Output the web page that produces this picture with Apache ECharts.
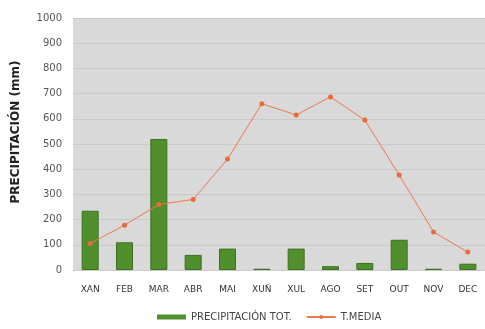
<!DOCTYPE html>
<html><head><meta charset="utf-8">
<script src="https://cdn.jsdelivr.net/npm/echarts@6/dist/echarts.min.js"></script>
<style>html,body{margin:0;padding:0;background:#fff}#c{width:485px;height:329px}</style>
</head><body><div id="c"></div>
<script>
const categories = ['XAN','FEB','MAR','ABR','MAI','XUÑ','XUL','AGO','SET','OUT','NOV','DEC'];
const precipitacion = [235, 110, 520, 60, 85, 5, 85, 15, 28, 120, 5, 25];
const tmedia = [105, 178, 260, 280, 440, 660, 615, 687, 595, 377, 151, 71];
const yTicks = [0, 100, 200, 300, 400, 500, 600, 700, 800, 900, 1000];

const F = 'DejaVu Sans';
const chart = echarts.init(document.getElementById('c'));
chart.setOption({
  animation: false,
  grid: { left: 73, right: 0, top: 18, bottom: 59, backgroundColor: '#d9d9d9', show: true, borderWidth: 0 },
  legend: {
    bottom: 2, left: 152, itemGap: 14,
    textStyle: { fontFamily: F, fontSize: 10, color: '#444' },
    data: [
      { name: 'PRECIPITACIÓN TOT.', icon: 'rect', itemStyle: { borderWidth: 0 } },
      { name: 'T.MEDIA' }
    ],
    itemWidth: 29, itemHeight: 5
  },
  xAxis: {
    type: 'category', data: categories,
    axisLine: { show: false }, axisTick: { show: false },
    axisLabel: { fontFamily: F, fontSize: 9, color: '#333', margin: 15 }
  },
  yAxis: {
    type: 'value', min: 0, max: 1000, interval: 100,
    name: 'PRECIPITACIÓN (mm)', nameLocation: 'middle', nameGap: 51,
    nameTextStyle: { fontFamily: F, fontSize: 12, fontWeight: 'bold', color: '#222', padding: [0, 0, 0, 24] },
    axisLine: { show: false }, axisTick: { show: false },
    axisLabel: { fontFamily: F, fontSize: 10, color: '#555', margin: 11, align: 'right',
      formatter: v => yTicks.includes(v) ? String(v) : '' },
    splitLine: { lineStyle: { color: '#c9c9c9', width: 1 } }
  },
  series: [
    { name: 'PRECIPITACIÓN TOT.', type: 'bar', data: precipitacion, barWidth: 17,
      itemStyle: { color: '#4f8f2c', borderColor: '#3d7020', borderWidth: 1 } },
    { name: 'T.MEDIA', type: 'line', data: tmedia, symbol: 'circle', symbolSize: 5,
      lineStyle: { color: '#ec7a4a', width: 1 }, itemStyle: { color: '#ec6a3a' } }
  ]
});
</script></body></html>
